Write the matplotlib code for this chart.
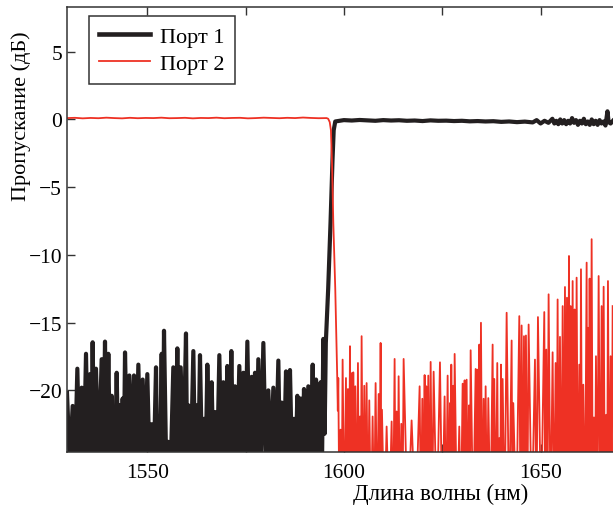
import numpy as np
import matplotlib.pyplot as plt

plt.rcParams['font.family'] = ['Liberation Serif', 'DejaVu Serif']
plt.rcParams['font.size'] = 15.5

# Port 1 - noise below the band edge (spike positions, nm / spike levels, dB)
p1_peak_nm = [1529.6, 1531.04, 1532.23, 1533.33, 1534.43, 1535.45, 1536.12, 1536.97, 1538.41, 1539.26,
              1540.11, 1540.96, 1541.38, 1542.23, 1543.07, 1543.75, 1544.35, 1545.45, 1546.63, 1547.74,
              1548.84, 1550.02, 1551.12, 1552.23, 1552.82, 1553.67, 1554.26, 1555.36, 1556.63, 1557.65,
              1558.50, 1559.85, 1560.45, 1561.72, 1562.57, 1563.41, 1564.43, 1565.28, 1566.38, 1567.23,
              1568.33, 1569.35, 1570.36, 1571.38, 1572.31, 1573.41, 1574.43, 1575.45, 1576.55, 1577.40,
              1578.24, 1579.52, 1580.79, 1582.06, 1583.33, 1584.18, 1585.28, 1586.29, 1587.31, 1588.16,
              1589.01, 1589.85, 1590.95, 1592.06, 1592.91, 1594.09, 1594.77]
p1_peak_db = [-20.2, -21.15, -18.4, -19.8, -17.3, -18.8, -16.45, -18.4, -17.7, -16.4,
              -17.3, -20.4, -23.8, -18.7, -21.1, -20.6, -17.2, -18.9, -18.9, -18.1,
              -19.2, -18.8, -22.5, -18.3, -21.9, -17.3, -15.6, -23.8, -18.3, -16.9,
              -18.3, -15.8, -21.1, -17.1, -21.1, -17.4, -22.1, -18.1, -19.4, -21.6,
              -17.4, -19.4, -18.2, -17.1, -19.7, -18.2, -18.7, -16.4, -19.0, -18.7,
              -17.7, -16.5, -20.0, -19.8, -17.8, -20.9, -18.6, -18.5, -22.1, -20.4,
              -20.6, -19.9, -19.7, -18.1, -19.2, -19.4, -16.2]
# Port 1 - band edge
p1_edge_nm = [1595.1, 1595.4, 1596.0, 1596.6, 1597.1, 1597.4, 1597.8]
p1_edge_db = [-23.2, -16.5, -12.5, -7.6, -3.0, -0.8, -0.15]
# Port 1 - pass band
p1_pass_nm = [1600, 1602, 1604, 1606, 1608, 1610, 1612, 1614, 1616, 1618,
              1620, 1622, 1624, 1626, 1628, 1630, 1632, 1634, 1636, 1638,
              1640, 1642, 1644, 1646, 1648, 1649, 1650, 1651, 1652, 1653,
              1653.5, 1654, 1654.5, 1655, 1655.5, 1656, 1656.5, 1657, 1657.5, 1658,
              1658.5, 1659, 1659.5, 1660, 1660.5, 1661, 1661.5, 1662, 1662.5, 1663,
              1663.5, 1664, 1664.5, 1665, 1665.5, 1666, 1666.5, 1667, 1667.3, 1667.8, 1668.4]
p1_pass_db = [-0.05, -0.08, -0.04, -0.07, -0.1, -0.05, -0.08, -0.06, -0.1, -0.08,
              -0.12, -0.07, -0.1, -0.09, -0.12, -0.1, -0.14, -0.12, -0.15, -0.13,
              -0.18, -0.15, -0.2, -0.16, -0.22, -0.05, -0.3, -0.1, -0.25, 0.05,
              -0.3, -0.1, -0.35, 0.0, -0.3, -0.05, -0.35, -0.1, -0.3, 0.1,
              -0.25, -0.05, -0.4, -0.1, -0.3, 0.05, -0.35, -0.15, -0.4, 0.0,
              -0.35, -0.1, -0.4, -0.05, -0.3, -0.15, -0.45, 0.6, -0.2, -0.3, -0.1]

# Port 2 - pass band
p2_pass_nm = np.arange(1529.6, 1596.1, 2.0)
p2_pass_db = [0.10, 0.12, 0.08, 0.11, 0.09, 0.13, 0.10, 0.08, 0.12, 0.09,
              0.11, 0.10, 0.13, 0.09, 0.10, 0.12, 0.08, 0.11, 0.10, 0.13,
              0.09, 0.11, 0.12, 0.08, 0.10, 0.13, 0.11, 0.09, 0.12, 0.10,
              0.14, 0.11, 0.09, 0.10]
# Port 2 - band edge
p2_edge_nm = [1596.0, 1596.4, 1596.7, 1597.0, 1597.3, 1597.8, 1598.3, 1598.45]
p2_edge_db = [0.05, -0.2, -0.8, -3.5, -7.6, -12.5, -19.0, -21.5]
# Port 2 - noise above the band edge
p2_peak_nm = [1598.57, 1599.16, 1599.67, 1600.52, 1601.03, 1601.54, 1602.05, 1602.38, 1602.89, 1603.57,
              1604.08, 1604.50, 1605.18, 1605.77, 1606.45, 1607.30, 1608.06, 1608.83, 1609.33, 1609.67,
              1610.86, 1612.13, 1612.89, 1613.40, 1613.91, 1614.59, 1615.18, 1617.21, 1619.25, 1619.93,
              1620.52, 1620.94, 1621.45, 1622.05, 1622.81, 1624.42, 1625.60, 1626.37, 1626.96, 1627.30,
              1627.81, 1628.15, 1629.33, 1630.18, 1630.69, 1631.20, 1631.79, 1632.22, 1633.49, 1633.91,
              1634.42, 1634.84, 1635.52, 1636.03, 1636.71, 1637.81, 1638.23, 1638.99, 1639.50, 1639.93,
              1640.35, 1641.37, 1642.64, 1643.06, 1644.59, 1645.18, 1645.78, 1646.28, 1646.96, 1648.57,
              1649.33, 1650.94, 1651.45, 1652.04, 1653.06, 1653.82, 1654.33, 1654.93, 1655.61, 1656.20,
              1656.71, 1657.22, 1657.64, 1658.15, 1658.66, 1659.16, 1659.84, 1660.27, 1660.86, 1661.71,
              1662.05, 1662.47, 1662.98, 1663.57, 1664.08, 1664.76, 1665.52, 1666.03, 1666.71, 1667.13,
              1667.81, 1668.32]
p2_peak_db = [-19.09, -22.9, -17.73, -19.09, -19.9, -16.74, -18.72, -18.67, -19.7, -17.98,
              -21.93, -16.0, -19.66, -19.46, -20.74, -21.93, -19.46, -20.27, -16.5, -21.43,
              -22.67, -22.3, -17.68, -21.56, -18.96, -22.47, -17.68, -22.22, -19.7, -20.62,
              -18.87, -19.7, -18.91, -17.9, -18.62, -17.93, -20.45, -18.91, -20.94, -18.1,
              -19.66, -17.31, -22.67, -19.51, -19.26, -19.21, -21.11, -17.04, -18.42, -18.47,
              -16.62, -15.01, -20.62, -19.7, -20.57, -16.62, -19.16, -17.98, -23.53, -18.1,
              -19.16, -14.27, -16.32, -20.94, -14.52, -15.21, -16.0, -15.95, -15.14, -17.73,
              -14.59, -14.22, -16.99, -12.91, -17.19, -17.98, -13.29, -16.05, -13.78, -12.37,
              -13.16, -10.08, -13.78, -11.93, -14.03, -11.68, -18.1, -11.06, -19.58, -10.57,
              -15.38, -11.75, -8.84, -22.0, -17.48, -11.56, -13.78, -12.35, -21.8, -11.93,
              -17.48, -13.78]

# dips between noise spikes sit just below the plotted range
p1_floor_db = -25.5
p2_floor_db = -30


def with_dips(nm, db, floor):
    nm = np.asarray(nm, dtype=float)
    db = np.asarray(db, dtype=float)
    x = np.empty(2 * len(nm) - 1)
    y = np.empty(2 * len(nm) - 1)
    x[0::2] = nm
    x[1::2] = (nm[:-1] + nm[1:]) / 2
    y[0::2] = db
    y[1::2] = floor
    return x, y


n1x, n1y = with_dips(p1_peak_nm, p1_peak_db, p1_floor_db)
x1 = np.concatenate([n1x, p1_edge_nm, p1_pass_nm])
y1 = np.concatenate([n1y, p1_edge_db, p1_pass_db])

n2x, n2y = with_dips(p2_peak_nm, p2_peak_db, p2_floor_db)
x2 = np.concatenate([p2_pass_nm, p2_edge_nm, n2x])
y2 = np.concatenate([p2_pass_db, p2_edge_db, n2y])

fig = plt.figure(figsize=(6.13, 5.06), dpi=100)
ax = fig.add_axes([67 / 613, 53 / 506, 756 / 613, 445 / 506])

ax.plot(x1, y1, color='#231f20', lw=3.0, label='Порт 1')
ax.plot(x2, y2, color='#ee3124', lw=1.3, label='Порт 2')

ax.set_xlim(1529.6, 1721.8)
ax.set_ylim(-24.55, 8.3)
ax.set_xticks([1550, 1600, 1650])
ax.set_xticks([1575, 1625, 1675, 1700], minor=True)
ax.set_yticks([-20, -15, -10, -5, 0, 5])
ax.tick_params(axis='both', which='both', direction='in', length=6, width=1,
               top=True, right=True, colors='#333333', labelcolor='black')
ax.tick_params(axis='x', pad=8)
for s in ax.spines.values():
    s.set_linewidth(1.1)
    s.set_color('#333333')

ax.set_xlabel('Длина волны (нм)', fontsize=16.5)
ax.set_ylabel('Пропускание (дБ)', fontsize=16)
ax.xaxis.set_label_coords((441 - 67) / 756, -0.07)
ax.yaxis.set_label_coords((31 - 67) / 756, 0.757)

leg = ax.legend(loc='upper left', bbox_to_anchor=(89 / 613, 1 - 17 / 506),
                bbox_transform=fig.transFigure, borderaxespad=0, fancybox=False,
                edgecolor='#333333', framealpha=1, fontsize=16, handlelength=2.3,
                handletextpad=0.45, labelspacing=0.3, borderpad=0.45)
leg.get_frame().set_linewidth(1.1)
leg.get_lines()[0].set_linewidth(3.3)

fig.savefig('out.png', dpi=100)
